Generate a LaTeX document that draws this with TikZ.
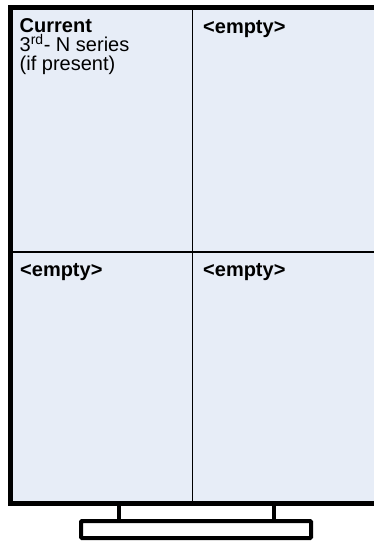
\documentclass[tikz,border=0pt]{standalone}
\usepackage{fontspec}
\setmainfont{Liberation Sans}
\usepackage{xcolor}
\usetikzlibrary{positioning}
\definecolor{screenfill}{RGB}{231,237,247}

\begin{document}
\begin{tikzpicture}[x=1pt, y=-1pt,
    label text/.style={inner sep=0pt, font=\fontsize{20}{19}\selectfont},
    frame line/.style={line width=5pt},
    stand line/.style={line width=4pt, rounded corners=1pt}]
          \useasboundingbox (0,0) rectangle (374,542);

          % screen
          \draw[frame line, fill=screenfill] (10,7.5) rectangle (380,503.5);
          \draw[line width=1.5pt] (192.5,7.5) -- (192.5,503.5);
          \draw[line width=1.8pt] (10,252) -- (380,252);

          % stand
          \draw[line width=4pt] (119,503.5) -- (119,521);
          \draw[line width=4pt] (274,503.5) -- (274,521);
          \draw[stand line] (81,521) rectangle (311,538);

          % cell labels
          \node[label text, anchor=north west, align=left] (cur) at (19.5,18.8)
               {\textbf{Current}\\3\textsuperscript{rd}- N series\\(if present)};
          \node[label text, anchor=base west] (tr) at (203,33.5) {\textbf{<empty>}};
          \node[label text, anchor=base west] (bl) at (20,276) {\textbf{<empty>}};
          \node[label text, anchor=base west] (br) at (203,276) {\textbf{<empty>}};
        \end{tikzpicture}
\end{document}
